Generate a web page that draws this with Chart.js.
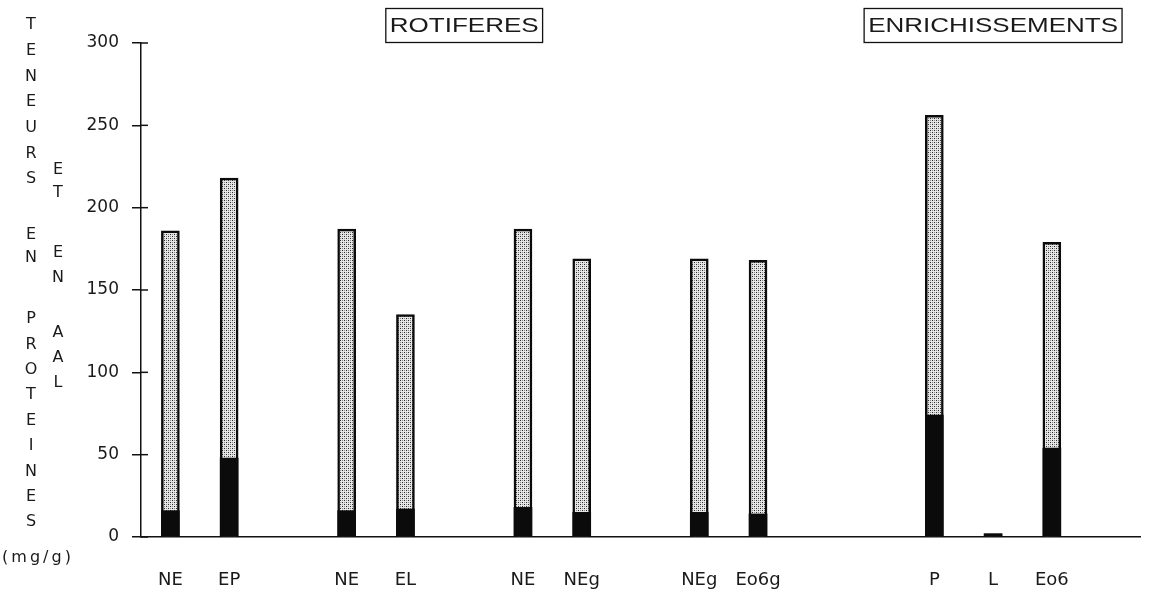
<!DOCTYPE html>
<html>
<head>
<meta charset="utf-8">
<script src="https://cdn.jsdelivr.net/npm/chart.js@4.4.0/dist/chart.umd.min.js"></script>
<style>
  html, body { margin: 0; padding: 0; background: #fff; }
  #wrap { width: 1155px; height: 599px; position: relative; }
</style>
</head>
<body>
<div id="wrap"><canvas id="teneurs"></canvas></div>
<script>
// categories along the bottom, empty strings leave the gaps between pairs
const labels = ["NE", "EP", "", "NE", "EL", "", "NE", "NEg", "", "NEg", "Eo6g", "", "", "P", "L", "Eo6", ""];
// protein content (mg/g) = full height of each bar
const proteines = [186, 218, null, 187, 135, null, 187, 169, null, 169, 168, null, null, 256, 2, 179, null];
// AAL content (mg/g) = black part at the foot of each bar
const aal = [16, 48, null, 16, 17, null, 18, 15, null, 15, 14, null, null, 74, 2, 54, null];
const yTicks = [0, 50, 100, 150, 200, 250, 300];

// boxed headings, centred on a category index
const groups = [
  { text: "ROTIFERES", at: 5 },
  { text: "ENRICHISSEMENTS", at: 14 }
];

// axis title written as stacked letters, two columns
const titleColumns = [
  { x: 31, runs: [
    { text: "TENEURS", y: 25, step: 25.7 },
    { text: "EN", y: 235, step: 23 },
    { text: "PROTEINES", y: 319, step: 25.4 }
  ] },
  { x: 58, runs: [
    { text: "ET", y: 170, step: 23 },
    { text: "EN", y: 253, step: 25 },
    { text: "AAL", y: 333, step: 25 }
  ] }
];
const unitLabel = "(mg/g)";

// dotted grey fill for the protein bars
function makeStipple() {
  const c = document.createElement("canvas");
  c.width = 4; c.height = 4;
  const g = c.getContext("2d");
  g.fillStyle = "#e6e6e6";
  g.fillRect(0, 0, 4, 4);
  g.fillStyle = "#2a2a2a";
  g.fillRect(0, 0, 1, 1);
  g.fillRect(2, 2, 1, 1);
  g.fillStyle = "#8a8a8a";
  g.fillRect(2, 0, 1, 1);
  g.fillRect(0, 2, 1, 1);
  return g.createPattern(c, "repeat");
}

const annotations = {
  id: "annotations",
  afterDraw(chart) {
    const { ctx, scales: { x, y } } = chart;
    ctx.save();
    ctx.strokeStyle = "#111";
    ctx.fillStyle = "#1a1a1a";

    // inner half of the crossing ticks on the value axis
    ctx.lineWidth = 1.5;
    yTicks.forEach(v => {
      const py = y.getPixelForValue(v);
      ctx.beginPath();
      ctx.moveTo(x.left, py);
      ctx.lineTo(x.left + 7, py);
      ctx.stroke();
    });

    // boxed headings
    const sx = 1.3;
    ctx.font = "20px 'Liberation Sans'";
    ctx.textAlign = "center";
    ctx.textBaseline = "middle";
    groups.forEach(g => {
      const cx = x.getPixelForValue(g.at);
      const w = ctx.measureText(g.text).width * sx;
      ctx.save();
      ctx.translate(cx, 26);
      ctx.scale(sx, 1);
      ctx.fillText(g.text, 0, 0);
      ctx.restore();
      ctx.lineWidth = 1.3;
      ctx.strokeRect(cx - w / 2 - 4, 8.5, w + 8, 34);
    });

    // stacked letters of the axis title
    ctx.font = "16px 'DejaVu Sans'";
    titleColumns.forEach(col => {
      col.runs.forEach(run => {
        [...run.text].forEach((ch, i) => ctx.fillText(ch, col.x, run.y + i * run.step));
      });
    });
    ctx.letterSpacing = "3px";
    ctx.fillText(unitLabel, 38, 558);
    ctx.restore();
  }
};

new Chart(document.getElementById("teneurs"), {
  type: "bar",
  data: {
    labels: labels,
    datasets: [
      { label: "AAL", data: aal, backgroundColor: "#0b0b0b", borderWidth: 0,
        grouped: false, barThickness: 18 },
      { label: "Proteines", data: proteines, backgroundColor: makeStipple(),
        borderColor: "#0b0b0b", borderWidth: 2.5, grouped: false, barThickness: 18 }
    ]
  },
  options: {
    responsive: true,
    maintainAspectRatio: false,
    animation: false,
    layout: { padding: { left: 86, top: 43, right: 15, bottom: 8 } },
    plugins: { legend: { display: false }, tooltip: { enabled: false } },
    scales: {
      x: {
        type: "category",
        offset: true,
        grid: { display: false, drawTicks: false },
        border: { color: "#111", width: 1.5 },
        ticks: { autoSkip: false, maxRotation: 0, padding: 33, color: "#1a1a1a",
                 font: { family: "DejaVu Sans", size: 18 } },
        afterFit(s) { s.height = 54; }
      },
      y: {
        min: 0,
        max: 300,
        afterBuildTicks(s) { s.ticks = yTicks.map(v => ({ value: v })); },
        grid: { drawOnChartArea: false, tickLength: 9, color: "#111", lineWidth: 1.5 },
        border: { color: "#111", width: 1.5 },
        ticks: { padding: 13, color: "#1a1a1a", font: { family: "DejaVu Sans", size: 17 } },
        afterFit(s) { s.width = 55; }
      }
    }
  },
  plugins: [annotations]
});
</script>
</body>
</html>
